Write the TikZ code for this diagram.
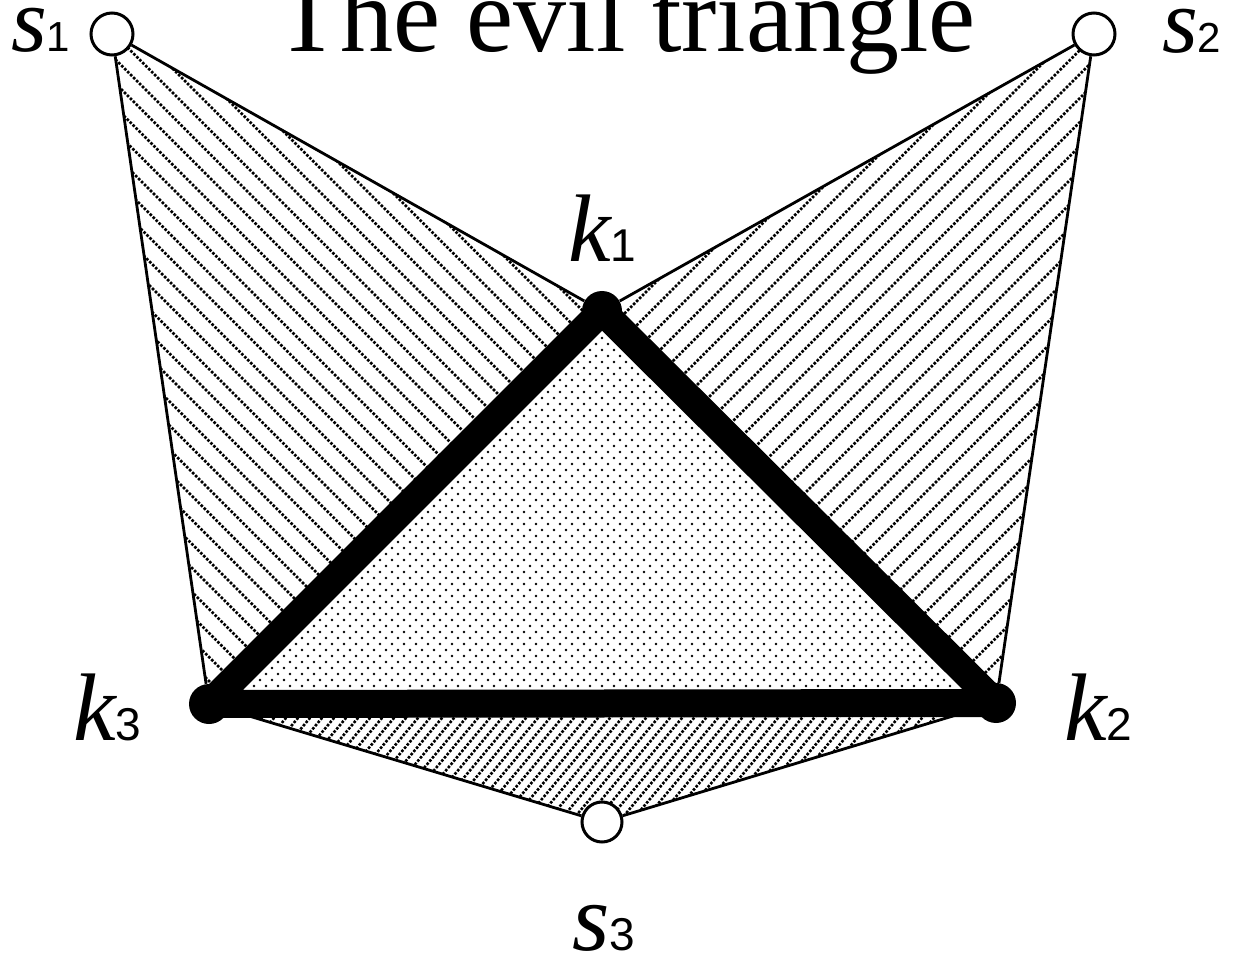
\documentclass[tikz,border=0pt]{standalone}
\usepackage{fontspec}
\setmainfont{Liberation Serif}
\newfontfamily\subfont{Liberation Sans}
\pgfdeclarelayer{bg}
\pgfsetlayers{bg,main}
\newcommand\biglab[2]{{\fontsize{48}{48}\selectfont\itshape #1}{\subfont\fontsize{23}{23}\selectfont #2}}
\newcommand\midlab[2]{{\fontsize{46}{46}\selectfont\itshape #1}{\subfont\fontsize{21}{21}\selectfont #2}}
\begin{document}
\begin{tikzpicture}[x=0.5pt,y=-0.5pt,
  scirc/.style={circle,draw,fill=white,line width=1.5pt,minimum size=21pt,inner sep=0pt},
  kdot/.style={circle,fill=black,minimum size=20pt,inner sep=0pt},
  thinedge/.style={line width=1.4pt},
  heavy/.style={line width=14pt,line join=round,line cap=round},
  hatchline/.style={line width=1.3pt,dash pattern=on 1.3pt off 0.8pt},
  lab/.style={anchor=base west,inner sep=0pt,outer sep=0pt,text height=20pt,text depth=0pt}]
\useasboundingbox (0,0) rectangle (1238,957);
\node[scirc] (s1) at (112,34) {};
\node[scirc] (s2) at (1094,34) {};
\node[scirc,minimum size=20pt] (s3) at (602,822) {};
\node[kdot] (k1) at (602,311) {};
\node[kdot] (k2) at (996,703) {};
\node[kdot] (k3) at (209,704) {};
\node[lab] (ls1) at (11,52) {\midlab{s}{1}};
\node[lab] (ls2) at (1162,53) {\midlab{s}{2}};
\node[lab,text height=33pt] (lk1) at (568,262) {\biglab{k}{1}};
\node[lab,text height=33pt] (lk3) at (73,740) {\biglab{k}{3}};
\node[lab,text height=33pt] (lk2) at (1064,740) {\biglab{k}{2}};
\node[lab] (ls3) at (572,950) {\biglab{s}{3}};
\begin{scope}
  \clip (0,0) rectangle (1238,957);
  \node[anchor=base west,inner sep=0pt,font=\fontsize{53}{53}\selectfont] (title) at (275,52) {The evil triangle};
\end{scope}
\begin{pgfonlayer}{bg}
  \begin{scope}
    \clip (s1.center) -- (k1.center) -- (k3.center) -- cycle;
    \foreach \c in {-520,-496,...,320} \draw[hatchline] (\c,0) -- (\c+960,960);
  \end{scope}
  \begin{scope}
    \clip (s2.center) -- (k1.center) -- (k2.center) -- cycle;
    \foreach \c in {890,914,...,1720} \draw[hatchline] (\c,0) -- (\c-960,960);
  \end{scope}
  \begin{scope}
    \clip (s3.center) -- (k3.center) -- (k2.center) -- cycle;
    \foreach \c in {780,792,...,1610} \draw[hatchline] (\c,0) -- ({\c-805},960);
  \end{scope}
  \begin{scope}
    \clip (k1.center) -- (k2.center) -- (k3.center) -- cycle;
    \foreach \r in {0,...,66} {
      \pgfmathsetmacro\yy{308+\r*6}
      \pgfmathsetmacro\xo{200+mod(\r,2)*6}
      \foreach \cc in {0,...,67} \fill (\xo+\cc*12,\yy) circle[radius=1.45];
    }
  \end{scope}
  \draw[thinedge] (s1) -- (k1);
  \draw[thinedge] (s1) -- (k3);
  \draw[thinedge] (s2) -- (k1);
  \draw[thinedge] (s2) -- (k2);
  \draw[thinedge] (s3) -- (k3);
  \draw[thinedge] (s3) -- (k2);
  \draw[heavy] (k1.center) -- (k2.center) -- (k3.center) -- cycle;
\end{pgfonlayer}
\end{tikzpicture}
\end{document}
